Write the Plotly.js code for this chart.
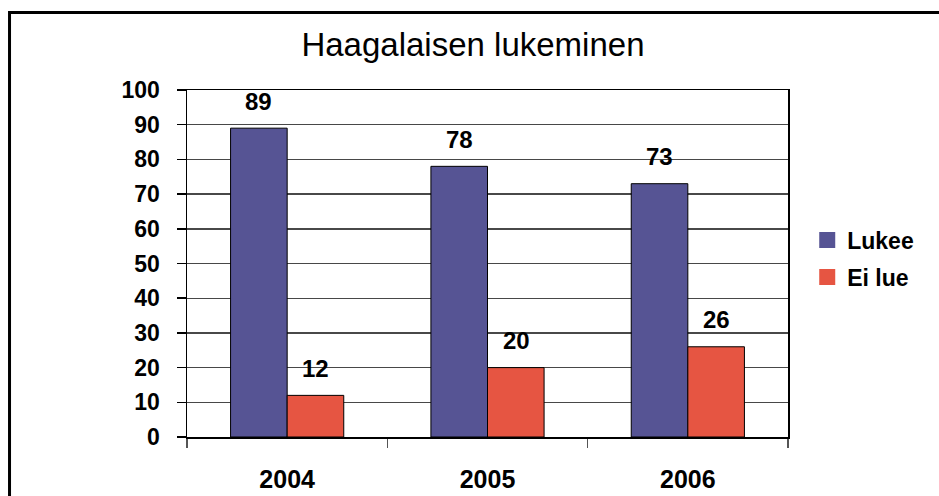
<!DOCTYPE html>
<html>
<head>
<meta charset="utf-8">
<script src="https://cdn.plot.ly/plotly-3.0.1.min.js"></script>
<style>html,body{margin:0;padding:0;background:#fff;}#chart{width:939px;height:496px;}</style>
</head>
<body>
<div id="chart"></div>
<script>
var years = ['2004', '2005', '2006'];
var seriesNames = ['Lukee', 'Ei lue'];
var lukee = [89, 78, 73];
var eiLue = [12, 20, 26];
var yTicks = [0, 10, 20, 30, 40, 50, 60, 70, 80, 90, 100];
var titleText = 'Haagalaisen lukeminen';

var colors = ['#565494', '#E65542'];
var seriesValues = [lukee, eiLue];

var traces = [];
seriesValues.forEach(function (vals, i) {
  traces.push({
    type: 'bar', x: years, y: vals, name: seriesNames[i], showlegend: false,
    marker: {color: colors[i], line: {color: '#000', width: 1}},
    hoverinfo: 'x+y'
  });
});
// legend entries with larger square swatches (no points drawn)
seriesValues.forEach(function (vals, i) {
  traces.push({
    type: 'scatter', mode: 'markers', x: years, y: years.map(function () { return null; }),
    name: seriesNames[i], legendgroup: 'g' + i,
    marker: {symbol: 'square', size: 17, color: colors[i]}
  });
});

var annotations = [];
var offsets = [-28.5, 28.5];
seriesValues.forEach(function (vals, i) {
  vals.forEach(function (v, j) {
    annotations.push({
      x: j, y: v, xref: 'x', yref: 'y', text: String(v), showarrow: false,
      xshift: offsets[i], yshift: 27, yanchor: 'middle', xanchor: 'center',
      font: {family: 'Liberation Sans, Arial, sans-serif', size: 24, color: '#000', weight: 'bold'}
    });
  });
});

var layout = {
  width: 939, height: 496,
  margin: {l: 187, r: 151, t: 90, b: 59, pad: 0},
  paper_bgcolor: '#fff', plot_bgcolor: '#fff',
  title: {text: titleText, x: 0.5037, xanchor: 'center', y: 0.911, yanchor: 'middle',
          font: {family: 'Liberation Sans, Arial, sans-serif', size: 33, color: '#000'}},
  barmode: 'group', bargap: 0.435, bargroupgap: 0,
  xaxis: {
    type: 'category', categoryorder: 'array', categoryarray: years,
    range: [-0.5, years.length - 0.5],
    tickson: 'boundaries', ticks: 'outside', ticklen: 9, tickcolor: '#555', tickwidth: 1.5,
    showline: true, linecolor: '#000', linewidth: 1.5, mirror: true, showgrid: false,
    ticklabelstandoff: 19,
    tickfont: {family: 'Liberation Sans, Arial, sans-serif', size: 25, color: '#000', weight: 'bold'}
  },
  yaxis: {
    range: [0, 100], tickvals: yTicks, ticktext: yTicks.map(String),
    ticks: 'outside', ticklen: 9, tickcolor: '#000', tickwidth: 1.5,
    showline: true, linecolor: '#000', linewidth: 1.5, mirror: true,
    showgrid: true, gridcolor: '#484848', gridwidth: 1.4, zeroline: false,
    ticklabelstandoff: 12,
    tickfont: {family: 'Liberation Sans, Arial, sans-serif', size: 23, color: '#000', weight: 'bold'}
  },
  legend: {
    x: 1.032, xanchor: 'left', y: 0.514, yanchor: 'middle',
    traceorder: 'grouped', tracegroupgap: 4,
    font: {family: 'Liberation Sans, Arial, sans-serif', size: 23, color: '#000', weight: 'bold'},
    bgcolor: 'rgba(0,0,0,0)', borderwidth: 0
  },
  annotations: annotations,
  shapes: [{
    type: 'rect', xref: 'paper', yref: 'paper',
    x0: -0.2953, x1: 1.6, y0: -0.6, y1: 1.2233,
    line: {color: '#000', width: 3}, fillcolor: 'rgba(0,0,0,0)', layer: 'above'
  }],
  hovermode: false
};

Plotly.newPlot('chart', traces, layout, {displayModeBar: false, staticPlot: true});
</script>
</body>
</html>
